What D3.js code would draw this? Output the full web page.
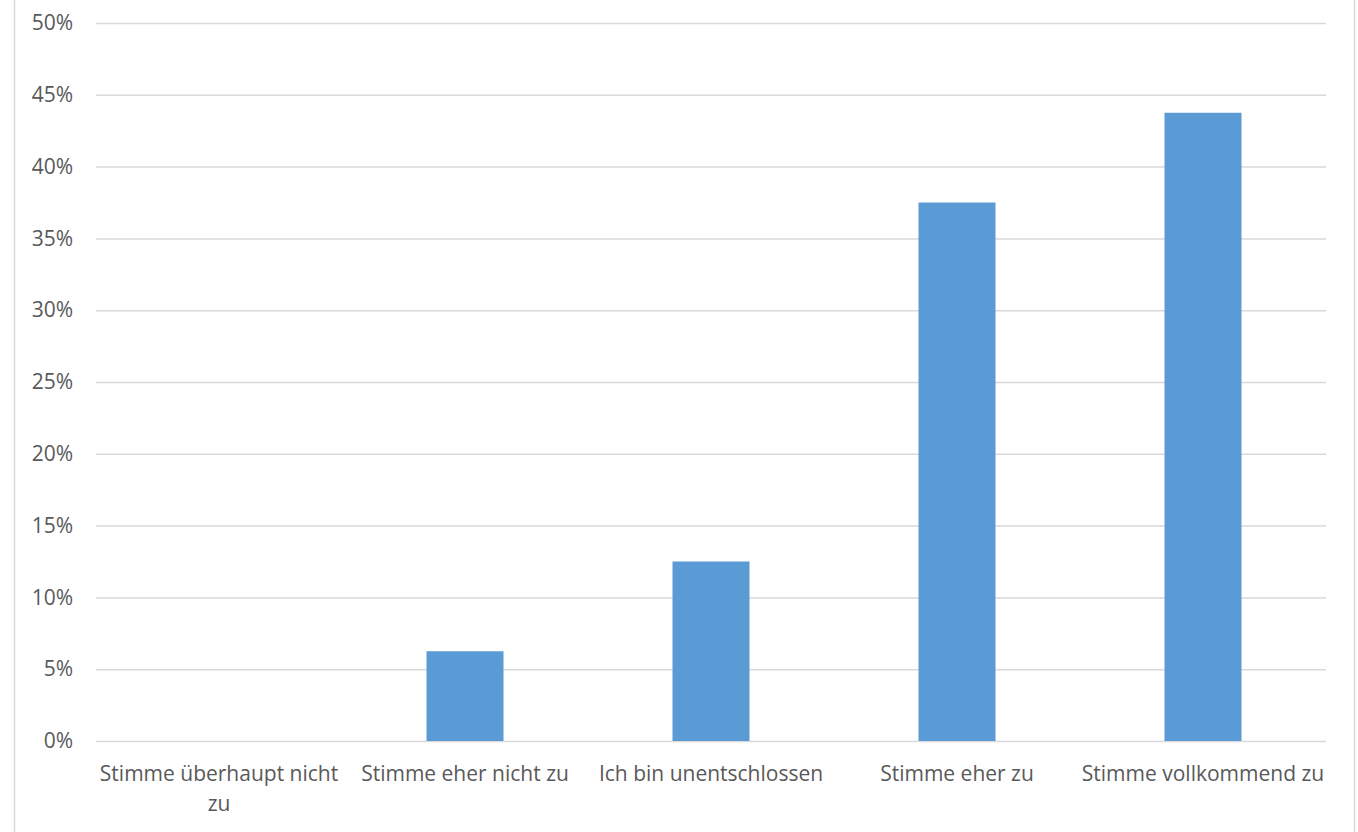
<!DOCTYPE html>
<html>
<head>
<meta charset="utf-8">
<script src="https://cdn.jsdelivr.net/npm/d3@7"></script>
<style>
  body { margin: 0; background: #fff; }
  svg { display: block; }
  text { font-family: "Open Sans", sans-serif; fill: #595959; }
</style>
</head>
<body>
<svg id="svg"></svg>
<script>
// answers to the survey question
let categories = ["Stimme überhaupt nicht zu", "Stimme eher nicht zu", "Ich bin unentschlossen", "Stimme eher zu", "Stimme vollkommend zu"];
let shares = [0, 0.0625, 0.125, 0.375, 0.4375];
let yTicks = [0, 0.05, 0.10, 0.15, 0.20, 0.25, 0.30, 0.35, 0.40, 0.45, 0.50];

let width = 1358;
let height = 832;
let margin = {top: 23, right: 32, bottom: 91, left: 96};

let svg = d3.select("#svg")
    .attr("width", width)
    .attr("height", height);

// chart frame (only the sides are in view)
svg.append("line").attr("x1", 14.5).attr("x2", 14.5).attr("y1", 0).attr("y2", height)
    .style("stroke", "#d9d9d9").style("stroke-width", 1.5);
svg.append("line").attr("x1", 1354.5).attr("x2", 1354.5).attr("y1", 0).attr("y2", height)
    .style("stroke", "#d9d9d9").style("stroke-width", 1.5);

let x = d3.scaleBand()
    .domain(categories)
    .range([margin.left, width - margin.right])
    .paddingInner(0.687)
    .paddingOuter(0.3435);

let y = d3.scaleLinear()
    .domain([0, 0.5])
    .range([height - margin.bottom, margin.top]);

// gridlines + y labels
let yAxis = svg.append("g")
    .attr("transform", `translate(${margin.left},0)`)
    .call(d3.axisLeft(y)
        .tickValues(yTicks)
        .tickSize(-(width - margin.left - margin.right))
        .tickPadding(23)
        .tickFormat(d3.format(".0%")));
yAxis.select(".domain").remove();
yAxis.selectAll(".tick line").style("stroke", "#d9d9d9").style("stroke-width", 1.5);
yAxis.selectAll(".tick text").style("font-size", "21px").style("fill", "#595959");

// bars
svg.append("g").selectAll("rect")
    .data(shares)
    .enter()
    .append("rect")
    .attr("x", (d, i) => x(categories[i]))
    .attr("width", x.bandwidth())
    .attr("y", d => y(d))
    .attr("height", d => y(0) - y(d))
    .style("fill", "#5b9bd5");

// category labels
let band = x.step();
let xAxis = svg.append("g")
    .attr("transform", `translate(0,${height - margin.bottom})`)
    .call(d3.axisBottom(x).tickSize(0).tickPadding(25));
xAxis.select(".domain").remove();
xAxis.selectAll(".tick text")
    .style("font-size", "21px")
    .style("fill", "#595959")
    .call(wrap, band);

function wrap(texts, w) {
    texts.each(function() {
        let text = d3.select(this);
        let words = text.text().split(" ");
        let yy = text.attr("y");
        let dy = parseFloat(text.attr("dy"));
        text.text(null);
        let line = [];
        let lineNo = 0;
        let tspan = text.append("tspan").attr("x", 0).attr("y", yy).attr("dy", dy + "em");
        words.forEach(word => {
            line.push(word);
            tspan.text(line.join(" "));
            if (tspan.node().getComputedTextLength() > w && line.length > 1) {
                line.pop();
                tspan.text(line.join(" "));
                line = [word];
                lineNo++;
                tspan = text.append("tspan").attr("x", 0).attr("y", yy)
                    .attr("dy", (lineNo * 1.45 + dy) + "em").text(word);
            }
        });
    });
}
</script>
</body>
</html>
